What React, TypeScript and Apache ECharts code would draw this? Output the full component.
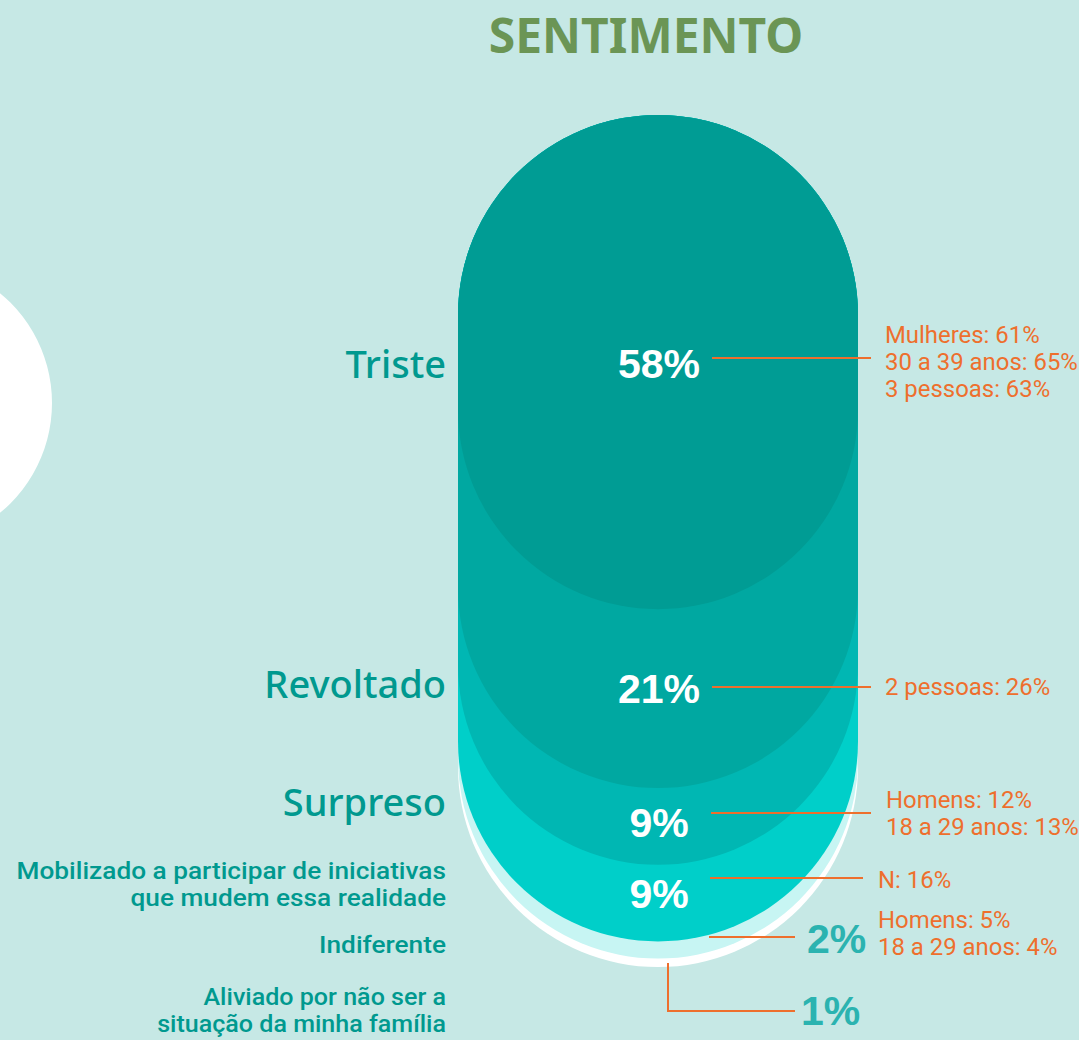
import React, { useEffect, useRef } from 'react';
import * as echarts from 'echarts';

// ---- data ----
const title = 'SENTIMENTO';
const categories = [
  'Triste',
  'Revoltado',
  'Surpreso',
  'Mobilizado a participar de iniciativas\nque mudem essa realidade',
  'Indiferente',
  'Aliviado por não ser a\nsituação da minha família',
];
const values = [58, 21, 9, 9, 2, 1];
const details: string[][] = [
  ['Mulheres: 61%', '30 a 39 anos: 65%', '3 pessoas: 63%'],
  ['2 pessoas: 26%'],
  ['Homens: 12%', '18 a 29 anos: 13%'],
  ['N: 16%'],
  ['Homens: 5%', '18 a 29 anos: 4%'],
  [],
];

// ---- styles / layout ----
const layerColors = ['#009C94', '#00A8A1', '#00B7B3', '#00CFC9', '#C7F5F3', '#FFFFFF'];
const BG = '#C6E8E5';
const TEAL = '#00998F';
const ORANGE = '#EE6F2D';
const catLabelY = [363, 683, 801, 884.5, 945, 1011];
const catFont = ['500 38px "Noto Sans"', '500 38px "Noto Sans"', '500 38px "Noto Sans"',
  '500 23px Roboto', '500 23px Roboto', '500 23px Roboto'];
const catScaleX = [1, 1, 1, 1.14, 1.14, 1.09];
const catLineH = [38, 38, 38, 27, 23, 27];
const pctPos: [number, number, string, string][] = [
  [659, 364, 'center', '#FFFFFF'],
  [659, 689, 'center', '#FFFFFF'],
  [659, 823, 'center', '#FFFFFF'],
  [659, 894, 'center', '#FFFFFF'],
  [807, 939, 'left', '#2BB3B0'],
  [801, 1011, 'left', '#2BB3B0'],
];
const detailPos: [number, number][] = [
  [885, 335],
  [885, 687],
  [886, 800],
  [878, 880],
  [878, 920],
  [0, 0],
];
const detailLineH = 27;
const leaders: number[][][] = [
  [[712, 358], [871, 358]],
  [[712, 687], [871, 687]],
  [[711, 813], [871, 813]],
  [[710, 878], [863, 878]],
  [[709, 937], [795, 937]],
  [[668, 963], [668, 1011], [795, 1011]],
];

function txt(
  text: string, x: number, y: number, fill: string, font: string,
  align: string, lh: number, scaleX = 1
) {
  return {
    type: 'text',
    z: 10,
    x,
    y,
    scaleX,
    style: {
      text,
      x: 0,
      y: 0,
      fill,
      font,
      lineHeight: lh,
      align,
      verticalAlign: 'middle',
      textAlign: align,
      textVerticalAlign: 'middle',
    },
  };
}

export default function App() {
  const ref = useRef<HTMLDivElement>(null);
  useEffect(() => {
    const chart = echarts.init(ref.current!, null, { renderer: 'svg' });
    const cum: number[] = [];
    values.reduce((acc, v) => {
      const s = acc + v;
      cum.push(s);
      return s;
    }, 0);

    const graphics: any[] = [];
    graphics.push({
      type: 'circle',
      shape: { cx: -90, cy: 403, r: 142 },
      style: { fill: '#FFFFFF' },
      z: 1,
    });
    graphics.push(txt(title, 646, 34, '#6B9555', 'bold 48px "Noto Sans"', 'center', 50));
    categories.forEach((c, i) => {
      graphics.push(
        txt(c, 446, catLabelY[i], TEAL, catFont[i], 'right', catLineH[i], catScaleX[i])
      );
      const p = pctPos[i];
      graphics.push(txt(`${values[i]}%`, p[0], p[1], p[3], 'bold 41px "Liberation Sans"', p[2], 41));
      if (details[i].length) {
        const n = details[i].length;
        graphics.push(
          txt(
            details[i].join('\n'),
            detailPos[i][0],
            detailPos[i][1] + ((n - 1) * detailLineH) / 2,
            ORANGE,
            '23px Roboto',
            'left',
            detailLineH,
            1.04
          )
        );
      }
      graphics.push({
        type: 'polyline',
        z: 10,
        shape: { points: leaders[i] },
        style: { stroke: ORANGE, lineWidth: 2, fill: null },
      });
    });

    const option: any = {
      animation: false,
      backgroundColor: BG,
      grid: { left: 458, right: 221, top: 115, bottom: 73 },
      xAxis: { type: 'value', min: 0, max: 1, show: false },
      yAxis: { type: 'value', min: 0, max: 100, inverse: true, show: false },
      series: [
        {
          type: 'custom',
          data: values.map((v, i) => [0.5, cum[i], i]),
          renderItem: (params: any, api: any) => {
            const idx = params.dataIndex;
            const cs = params.coordSys;
            const x0 = cs.x;
            const w = cs.width;
            const r = w / 2;
            const yTop = api.coord([0.5, 0])[1];
            const yBot = api.coord([0.5, api.value(1)])[1];
            const d =
              `M ${x0} ${yTop + r} A ${r} ${r} 0 0 1 ${x0 + w} ${yTop + r} ` +
              `L ${x0 + w} ${yBot - r} A ${r} ${r} 0 0 1 ${x0} ${yBot - r} Z`;
            return {
              type: 'path',
              shape: { pathData: d },
              style: { fill: layerColors[idx] },
              z2: values.length - idx,
            };
          },
        },
      ],
      graphic: { elements: graphics },
    };
    chart.setOption(option);
    return () => chart.dispose();
  }, []);
  return (
    <div
      ref={ref}
      style={{ position: 'absolute', left: 0, top: 0, width: 1079, height: 1040 }}
    />
  );
}
